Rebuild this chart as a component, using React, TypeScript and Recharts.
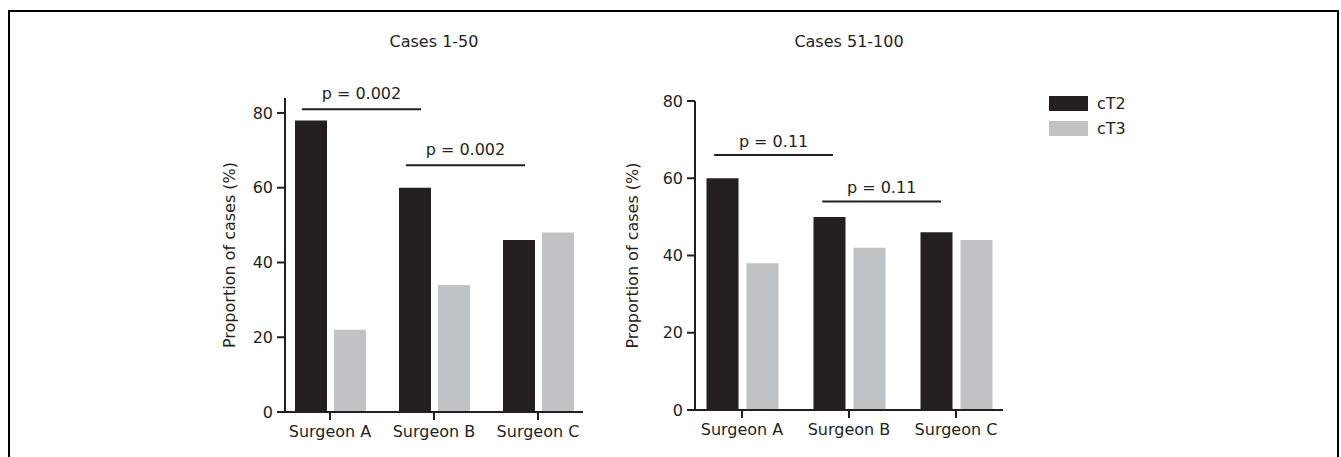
import React from 'react';
import { BarChart, Bar, XAxis, YAxis, ReferenceLine, Legend } from 'recharts';

// categories + values
const surgeons = ['Surgeon A', 'Surgeon B', 'Surgeon C'];
const early_cT2 = [78, 60, 46];
const early_cT3 = [22, 34, 48];
const late_cT2 = [60, 50, 46];
const late_cT3 = [38, 42, 44];
const yTicks = [0, 20, 40, 60, 80];

// significance brackets, x in category units (0..3), y in %
const earlyBrackets = [
  { from: 0.23, to: 1.375, y: 81, label: 'p = 0.002' },
  { from: 1.23, to: 2.375, y: 66, label: 'p = 0.002' },
];
const lateBrackets = [
  { from: 0.24, to: 1.35, y: 66, label: 'p = 0.11' },
  { from: 1.25, to: 2.36, y: 54, label: 'p = 0.11' },
];

const INK = '#231f20';
const GREY = '#c1c2c4';
const FONT = '"DejaVu Sans", sans-serif';
const H = 457;

const toRows = (a: number[], b: number[]) =>
  surgeons.map((s, i) => ({ surgeon: s, cT2: a[i], cT3: b[i], pos: i + 0.5 }));

const renderLegend = (props: any) => (
  <div style={{ fontFamily: FONT, fontSize: 16, color: INK }}>
    {(props.payload || []).map((e: any) => (
      <div key={e.value} style={{ display: 'flex', alignItems: 'center', height: 25 }}>
        <span style={{ display: 'inline-block', width: 39, height: 15, background: e.color, marginRight: 9 }} />
        {e.value}
      </div>
    ))}
  </div>
);

function Panel(p: any) {
  const { title, rows, yMax, brackets, left, width, plotLeft, plotRight, plotTop, plotBottom, pad, gap, ylabelOffset, lift, legend } = p;
  const axisStyle = { stroke: INK, strokeWidth: 2 };
  const tickStyle = { fill: INK, fontSize: 16, fontFamily: FONT };
  return (
    <>
      <div
        style={{
          position: 'absolute', left: (plotLeft + plotRight) / 2 - 100, top: 32, width: 200,
          textAlign: 'center', fontFamily: FONT, fontSize: 16, lineHeight: '20px', color: INK,
        }}
      >
        {title}
      </div>
      <div style={{ position: 'absolute', left, top: 0 }}>
        <BarChart
          width={width}
          height={H}
          data={rows}
          barSize={32}
          barGap={gap}
          margin={{ top: plotTop, bottom: H - plotBottom - 30, left: plotLeft - left - 60, right: left + width - plotRight }}
        >
          <XAxis
            dataKey="surgeon"
            height={30}
            interval={0}
            padding={{ left: pad, right: pad }}
            tickSize={8}
            tickMargin={6}
            axisLine={axisStyle}
            tickLine={axisStyle}
            tick={tickStyle}
          />
          <XAxis
            xAxisId="pos"
            dataKey="pos"
            type="number"
            domain={[0, 3]}
            allowDataOverflow
            hide
            padding={{ left: pad, right: pad }}
          />
          <YAxis
            width={60}
            domain={[0, yMax]}
            ticks={yTicks}
            tickSize={8}
            tickMargin={4}
            axisLine={axisStyle}
            tickLine={axisStyle}
            tick={tickStyle}
            label={{
              value: 'Proportion of cases (%)', angle: -90, position: 'insideLeft', offset: ylabelOffset,
              fill: INK, fontSize: 16, fontFamily: FONT, style: { textAnchor: 'middle' },
            }}
          />
          {legend && (
            <Legend
              layout="vertical"
              align="center"
              verticalAlign="middle"
              content={renderLegend}
              wrapperStyle={{ left: legend.x, top: legend.y, width: 'auto' }}
            />
          )}
          <Bar dataKey="cT2" name="cT2" fill={INK} isAnimationActive={false} />
          <Bar dataKey="cT3" name="cT3" fill={GREY} isAnimationActive={false} />
          {brackets.map((b: any, i: number) => (
            <ReferenceLine
              key={i}
              xAxisId="pos"
              segment={[{ x: b.from, y: b.y }, { x: b.to, y: b.y }]}
              stroke={INK}
              strokeWidth={2}
              ifOverflow="visible"
              label={{ value: b.label, position: 'top', offset: lift, fill: INK, fontSize: 16, fontFamily: FONT }}
            />
          ))}
        </BarChart>
      </div>
    </>
  );
}

export default function App() {
  return (
    <div style={{ position: 'absolute', left: 0, top: 0, width: 1341, height: H, overflow: 'hidden', background: '#fff' }}>
      <div
        style={{
          position: 'absolute', left: 8, top: 10, width: 1331, height: 470,
          border: '2px solid #000', boxSizing: 'border-box',
        }}
      />
      <Panel
        title="Cases 1-50"
        rows={toRows(early_cT2, early_cT3)}
        yMax={84}
        brackets={earlyBrackets}
        left={150}
        width={450}
        plotLeft={285}
        plotRight={583}
        plotTop={98}
        plotBottom={412}
        pad={-7}
        gap={7}
        ylabelOffset={4}
        lift={10}
      />
      <Panel
        title="Cases 51-100"
        rows={toRows(late_cT2, late_cT3)}
        yMax={80}
        brackets={lateBrackets}
        left={600}
        width={600}
        plotLeft={695}
        plotRight={1003}
        plotTop={101}
        plotBottom={410}
        pad={-6.5}
        gap={8}
        ylabelOffset={-3}
        lift={8}
        legend={{ x: 449, y: 91 }}
      />
    </div>
  );
}
